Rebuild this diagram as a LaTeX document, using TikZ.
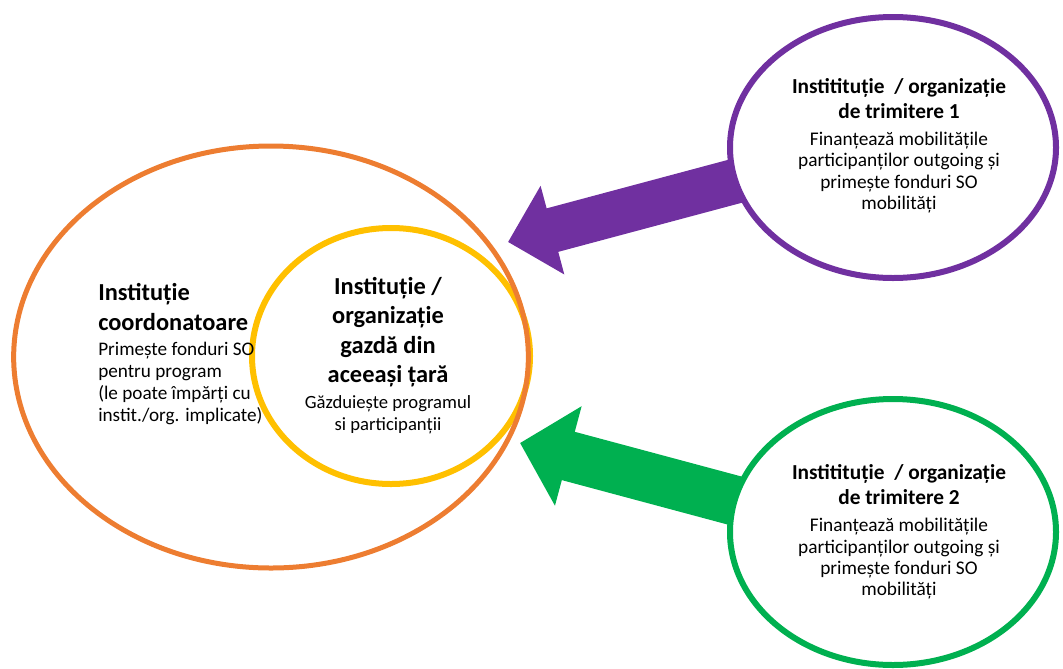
\documentclass[tikz,border=0pt]{standalone}
\usepackage{fontspec}
\setmainfont{Carlito}
\usetikzlibrary{shapes.geometric,arrows.meta,positioning,backgrounds}
\definecolor{coordorange}{HTML}{ED7D31}
\definecolor{hostyellow}{HTML}{FFC000}
\definecolor{sendpurple}{HTML}{7030A0}
\definecolor{sendgreen}{HTML}{00B050}

\begin{document}
\begin{tikzpicture}[x=0.75pt, y=-0.75pt,
oval/.style={ellipse, draw, inner sep=0pt},
bigtitle/.style={font=\fontsize{18.3}{22.5}\selectfont\bfseries, inner sep=0pt},
smalltitle/.style={font=\fontsize{16}{18.75}\selectfont\bfseries, inner sep=0pt, align=center},
body/.style={font=\fontsize{14.4}{16.5}\selectfont, inner sep=0pt},
fat/.style={line width=#1}]
 \useasboundingbox (0,0) rectangle (1063,668);

 \node[oval, draw=hostyellow, line width=4.5pt, minimum width=208.5pt, minimum height=192pt] (host) at (391,356) {};
 \node[oval, draw=coordorange, line width=3.75pt, minimum width=386pt, minimum height=316.5pt] (coord) at (271,357) {};
 \node[oval, draw=sendpurple, fill=white, line width=4.5pt, minimum width=244.5pt, minimum height=195.75pt] (send1) at (893,147.5) {};
 \node[oval, draw=sendgreen, fill=white, line width=4.5pt, minimum width=244.5pt, minimum height=199.5pt] (send2) at (893,532) {};
 \coordinate (tail1) at (893,139);
 \coordinate (tip1) at (508,242);
 \coordinate (tail2) at (893,543);
 \coordinate (tip2) at (520,443);

 \node[bigtitle, align=left, anchor=north west] (coordtitle) at (98,283) {Instituție\\coordonatoare};
 \node[body, align=left, below=8.4pt of coordtitle.south west, anchor=north west] (coordtext)
   {Primește fonduri SO\\pentru program\\(le poate împărți cu\\instit./org. implicate)};
 \node[bigtitle, align=center, anchor=north, font=\fontsize{18.3}{22.1}\selectfont\bfseries] (hosttitle) at (388,277)
   {Instituție /\\organizație\\gazdă din\\aceeași țară};
 \node[body, align=center, below=6pt of hosttitle, font=\fontsize{14}{16.5}\selectfont] (hosttext) {Găzduiește programul\\si participanții};

 \node[smalltitle, anchor=north] (send1title) at (899,78) {Institituție \ / organizație\\de trimitere 1};
 \node[body, align=center, below=9.75pt of send1title, font=\fontsize{14.5}{16}\selectfont] (send1text)
   {Finanțează mobilitățile\\participanților outgoing și\\primește fonduri SO\\mobilități};
 \node[smalltitle, anchor=north] (send2title) at (899,464.5) {Institituție \ / organizație\\de trimitere 2};
 \node[body, align=center, below=9.75pt of send2title, font=\fontsize{14.5}{16}\selectfont] (send2text)
   {Finanțează mobilitățile\\participanților outgoing și\\primește fonduri SO\\mobilități};

 \begin{scope}[on background layer]
 \draw[sendpurple, fat=33.75pt, -{Triangle[length=34.5pt, width=66.75pt]}] (tail1) -- (tip1);
 \draw[sendgreen, fat=37.5pt, -{Triangle[length=37.5pt, width=75pt]}] (tail2) -- (tip2);
 \end{scope}
\end{tikzpicture}
\end{document}
